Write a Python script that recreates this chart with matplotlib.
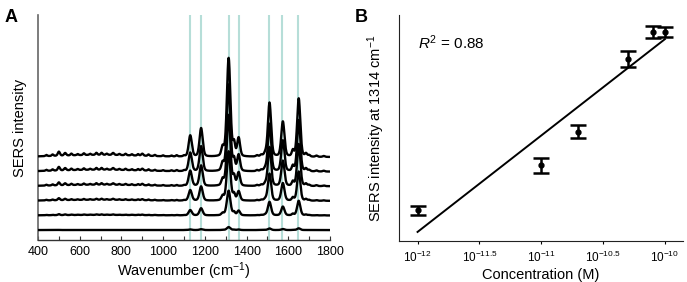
import numpy as np
import matplotlib
matplotlib.use("Agg")
import matplotlib.pyplot as plt
from matplotlib.ticker import MultipleLocator, NullLocator

plt.rcParams['font.family'] = ['Liberation Sans', 'DejaVu Sans']
plt.rcParams['mathtext.fontset'] = 'custom'
plt.rcParams['mathtext.rm'] = 'Liberation Sans'
plt.rcParams['mathtext.it'] = 'Liberation Sans:italic'
plt.rcParams['mathtext.default'] = 'regular'

# ---------------- Panel A data ----------------
peak_wn = [1130, 1182, 1285, 1314, 1340, 1362, 1490, 1510, 1574, 1622, 1650, 1685]
peak_h = [1.45, 1.95, 0.6, 6.75, 0.85, 1.25, 0.2, 3.7, 2.4, 0.4, 4.0, 0.2]
peak_w = [9, 9, 7, 10, 6, 8, 8, 9, 9, 6, 9, 6]
bump_wn = [440, 470, 500, 530, 560, 590, 620, 650, 680, 705, 730, 760, 790, 820,
           850, 880, 900, 930, 960, 1000, 1040, 1065, 1100, 1450, 1470, 1700, 1735, 1770, 700]
bump_h = [0.08, 0.1, 0.28, 0.18, 0.12, 0.08, 0.12, 0.08, 0.14, 0.14, 0.08, 0.14, 0.08, 0.1,
          0.08, 0.1, 0.14, 0.1, 0.08, 0.06, 0.06, 0.08, 0.06, 0.08, 0.1, 0.1, 0.08, 0.06, 0.15]
bump_w = [5, 5, 6, 6, 5, 5, 5, 5, 5, 5, 5, 6, 5, 5,
          5, 5, 6, 5, 5, 5, 5, 5, 5, 6, 6, 6, 6, 6, 230]
trace_scale = [0.03, 0.25, 0.5, 0.72, 0.88, 1.0]
trace_offset = [0, 1, 2, 3, 4, 5]
ref_lines = [1128, 1182, 1314, 1362, 1506, 1572, 1648]

# ---------------- Panel B data ----------------
conc = [1e-12, 1e-11, 2e-11, 5e-11, 8e-11, 1e-10]
intensity = [13.5, 33.5, 48.4, 80.6, 92.6, 92.6]
err = [2.1, 3.2, 2.8, 3.5, 2.7, 2.2]
xtick_exp = [-12, -11.5, -11, -10.5, -10]
xtick_labels = [r'$10^{-12}$', r'$10^{-11.5}$', r'$10^{-11}$', r'$10^{-10.5}$', r'$10^{-10}$']

fig = plt.figure(figsize=(6.87, 2.82), dpi=100)

# ---------- Panel A ----------
axA = fig.add_axes([38/687, 1-240/282, (330-38)/687, (240-15)/282])
wn = np.arange(400, 1801, 1.0)

def peak(x, c, h, g):
    # pseudo-Voigt shape (mostly Gaussian) with half width g
    gau = np.exp(-np.log(2) * ((x - c) / g)**2)
    lor = g**2 / ((x - c)**2 + g**2)
    return h * (0.7 * gau + 0.3 * lor)

base_peaks = sum(peak(wn, c, h, g) for c, h, g in zip(peak_wn, peak_h, peak_w))
base_bumps = sum(peak(wn, c, h, g) for c, h, g in zip(bump_wn, bump_h, bump_w))
for c in ref_lines:
    axA.axvline(c, color='#b6ded8', lw=1.5, zorder=1)
for s, o in zip(trace_scale, trace_offset):
    axA.plot(wn, o + s * (base_peaks + base_bumps), color='black', lw=1.7, zorder=3)

axA.set_xlim(400, 1800)
axA.set_ylim(-0.68, 14.73)
axA.set_yticks([])
axA.spines['top'].set_visible(False)
axA.spines['right'].set_visible(False)
axA.spines['left'].set_color('#666666')
axA.spines['bottom'].set_color('#333333')
axA.spines['left'].set_linewidth(1.2)
axA.spines['bottom'].set_linewidth(1.0)
axA.xaxis.set_major_locator(MultipleLocator(200))
axA.xaxis.set_minor_locator(MultipleLocator(100))
axA.tick_params(axis='x', which='both', direction='in', length=3, width=0.8,
                labelsize=9, pad=4, color='#333333')
axA.set_xlabel(r'Wavenumber (cm$^{-1}$)', fontsize=10.5, labelpad=2)
axA.set_ylabel('SERS intensity', fontsize=10.5, labelpad=8)
fig.text(5/687, 1-17/282, 'A', fontsize=13, fontweight='bold', va='center', ha='left')

# ---------- Panel B ----------
axB = fig.add_axes([398.5/687, 1-241/282, (683-398.5)/687, (241-15)/282])
axB.set_xscale('log')
logc = np.log10(conc)
slope, icpt = np.polyfit(logc, intensity, 1)
xfit = np.array([conc[0], conc[-1]])
axB.plot(xfit, slope*np.log10(xfit) + icpt, color='black', lw=1.4, zorder=2)
axB.errorbar(conc, intensity, yerr=err, fmt='o', color='black', ms=3.5,
             capsize=6, elinewidth=1.8, capthick=1.8, zorder=3)
axB.set_xlim(10**-12.154, 10**-9.854)
axB.set_ylim(0, 100)
axB.set_yticks([])
axB.set_xticks([10**e for e in xtick_exp])
axB.set_xticklabels(xtick_labels)
axB.xaxis.set_minor_locator(NullLocator())
axB.spines['top'].set_visible(False)
axB.spines['right'].set_visible(False)
axB.spines['left'].set_color('#222222')
axB.spines['bottom'].set_color('#222222')
axB.tick_params(axis='x', which='major', direction='out', length=2.5, width=0.8,
                labelsize=8.5, pad=4)
axB.set_xlabel('Concentration (M)', fontsize=10.5, labelpad=2)
axB.set_ylabel(r'SERS intensity at 1314 cm$^{-1}$', fontsize=10.5, labelpad=8)
axB.text(418/687, 1-43/282, r'$\mathit{R}^{2}$ = 0.88', transform=fig.transFigure,
         fontsize=11, va='center', ha='left')
fig.text(355/687, 1-17/282, 'B', fontsize=13, fontweight='bold', va='center', ha='left')

fig.savefig('out.png', dpi=100)
